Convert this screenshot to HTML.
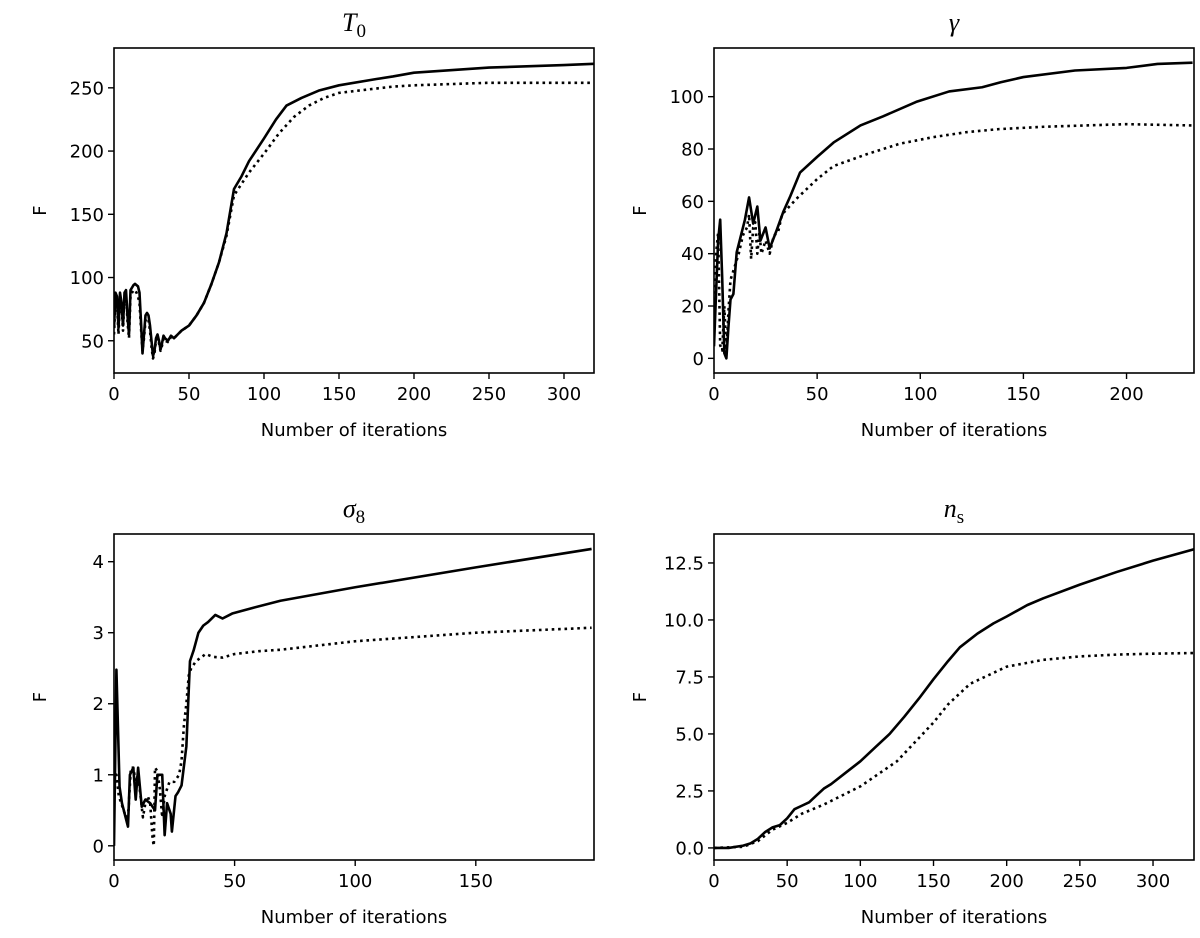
<!DOCTYPE html>
<html><head><meta charset="utf-8"><style>
html,body{margin:0;padding:0;background:#fff;}
svg{display:block;}
text{font-family:"DejaVu Sans","Liberation Sans",sans-serif;fill:#000;}
.ttl{font-family:"Liberation Serif","DejaVu Serif",serif;font-style:italic;font-size:26px;}
</style></head><body>
<svg id="fig" width="1200" height="938" viewBox="0 0 1200 938" xmlns="http://www.w3.org/2000/svg"></svg>
<script>
// ---- T0 panel data ----
const t0SolidX = [0,1,2,3,4,5,6,7,8,9,10,11,12,13,14,15,16,17,18,19,20,21,22,23,24,25,26,27,28,29,30,31,32,33,34,36,38,40,45,50,55,60,65,70,75,80,85,90,100,108,115,125,137,150,175,186,200,250,300,320];
const t0SolidY = [60,88,85,60,88,80,62,88,90,70,55,90,92,94,95,94,93,88,65,40,55,70,72,70,62,50,38,42,52,55,50,43,48,54,52,50,54,52,58,62,70,80,95,112,135,170,180,192,210,225,236,242,248,252,257,259,262,266,268,269];
const t0DotX = [0,1,2,3,4,5,6,7,8,9,10,11,12,13,14,15,16,17,18,19,20,21,22,23,24,25,26,27,28,29,30,31,32,33,34,36,38,40,45,50,55,60,65,70,75,80,90,100,110,120,130,140,150,186,200,250,320];
const t0DotY = [55,85,80,55,85,78,58,85,87,65,52,85,88,90,90,88,85,80,60,42,52,66,68,66,58,45,36,40,50,52,48,42,46,52,50,49,53,52,58,62,70,80,95,112,133,165,183,198,214,227,236,242,246,251,252,254,254];
const t0YTicks = [50,100,150,200,250];
const t0XTicks = [0,50,100,150,200,250,300];
// ---- gamma panel data ----
const gSolidX = [0,1,2,3,4,5,6,7,8,9.4,11,12.6,15,17,19,21,22.5,25,27,30.4,33.6,37,41.7,50,58,71,82,98,114,130,139,150,175,200,215,232];
const gSolidY = [4.6,25,45,53,30,2,0,12,22.5,24.6,40.5,45.5,53,61.5,51.5,58,45,50,42,49,56,62,71,77,82.5,89,92.5,98,102,103.6,105.5,107.5,110,111,112.5,113];
const gDotX = [0,1,2,3,4,5,6,7,8,10,12,14,16,17,18,19,20,21,22,23,25,27,29,31,33,40,50,58,74,90,106,122,138,160,180,200,232];
const gDotY = [10,40,48,5,3,20,2,18,30,35,40,47,50,55,38,50,52,40,48,40,45,40,47,48,55,61,68.5,73.5,78,82,84.5,86.4,87.6,88.5,89,89.5,89];
const gYTicks = [0,20,40,60,80,100];
const gXTicks = [0,50,100,150,200];
// ---- sigma8 panel data ----
const sSolidX = [0,1,2.3,3.3,5.8,6.6,8,9,10,11.5,13,15,16,17,18,20,21,22,23.5,24,25.5,26.5,28,30,31.5,33,35,37,39,42,45,49,57.6,69,100,150,198];
const sSolidY = [0,2.48,0.83,0.6,0.27,1.0,1.1,0.65,1.1,0.55,0.65,0.6,0.55,0.5,1.0,1.0,0.15,0.6,0.45,0.2,0.7,0.75,0.85,1.4,2.6,2.75,3.0,3.1,3.15,3.25,3.2,3.27,3.35,3.45,3.64,3.92,4.18];
const sDotX = [0,1,2,3,4,5,6,7,8,9,10,11,12,13,14,15,16,16.5,17,18,19,20,21,22,23,25,27,28,29,30,31,32,34,36,38,41,45,50,60,69,100,150,198];
const sDotY = [0.9,1.0,0.7,0.6,0.5,0.4,0.5,1.1,1.1,0.9,1.0,0.7,0.4,0.6,0.7,0.6,0.1,0,1.1,1.05,0.8,0.4,0.7,0.8,0.9,0.9,1.0,1.2,1.7,2.0,2.4,2.5,2.6,2.65,2.7,2.66,2.65,2.7,2.74,2.76,2.88,3.0,3.07];
const sYTicks = [0,1,2,3,4];
const sXTicks = [0,50,100,150];
// ---- n_s panel data ----
const nSolidX = [0,10,20,25,30,35,40,45,50,55,60,65,70,75,80,90,100,110,120,130,140,150,160,168,180,191,200,214,225,250,275,300,328];
const nSolidY = [0,0,0.1,0.2,0.4,0.7,0.9,1.0,1.3,1.7,1.85,2.0,2.3,2.6,2.8,3.3,3.8,4.4,5.0,5.75,6.55,7.4,8.2,8.8,9.4,9.85,10.15,10.65,10.95,11.55,12.1,12.6,13.1];
const nDotX = [0,20,30,40,50,60,75,100,125,150,160,175,200,225,250,275,300,328];
const nDotY = [0,0.05,0.3,0.8,1.1,1.5,1.9,2.7,3.8,5.5,6.3,7.2,7.95,8.25,8.4,8.48,8.52,8.55];
const nYTicks = [0,2.5,5,7.5,10,12.5];
const nXTicks = [0,50,100,150,200,250,300];

const NS = "http://www.w3.org/2000/svg";
const fig = document.getElementById('fig');
function mk(tag, attrs, parent, txt){
  const e = document.createElementNS(NS, tag);
  for (const k in attrs) e.setAttribute(k, attrs[k]);
  if (txt !== undefined) e.textContent = txt;
  (parent || fig).appendChild(e);
  return e;
}
function panel(cfg){
  const g = mk('g', {});
  
  
  const L = cfg.left, R = cfg.left + 480, T = cfg.top, B = cfg.bottom;
  const sx = v => L + (v - cfg.xmin) / (cfg.xmax - cfg.xmin) * (R - L);
  const sy = v => B - (v - cfg.ymin) / (cfg.ymax - cfg.ymin) * (B - T);
  const clip = mk('clipPath', {id: 'clip-' + cfg.name}, g);
  mk('rect', {x: L, y: T, width: R - L, height: B - T}, clip);
  const lines = mk('g', {'clip-path': 'url(#clip-' + cfg.name + ')'}, g);
  const pts = (X, Y) => X.map((x, i) => sx(x).toFixed(2) + ',' + sy(Y[i]).toFixed(2)).join(' ');
  const dl = mk('polyline', {points: pts(cfg.dx, cfg.dy), fill: 'none', stroke: '#000', 'stroke-width': 2.6, 'stroke-dasharray': '2.6 3.8', 'stroke-linejoin': 'round'}, lines);
  
  
  const sl = mk('polyline', {points: pts(cfg.sx, cfg.sy), fill: 'none', stroke: '#000', 'stroke-width': 2.6, 'stroke-linejoin': 'round'}, lines);
  
  
  const fr = mk('rect', {x: L, y: T, width: R - L, height: B - T, fill: 'none', stroke: '#000', 'stroke-width': 1.6}, g);
  
  
  cfg.xt.forEach(v => {
    const x = sx(v);
    mk('line', {x1: x, x2: x, y1: B, y2: B + 6, stroke: '#000', 'stroke-width': 1.4}, g);
    const t = mk('text', {x: x, y: B + 27, 'text-anchor': 'middle', 'font-size': 18}, g, String(v));
    
    
  });
  cfg.yt.forEach(v => {
    const y = sy(v);
    mk('line', {x1: L - 6, x2: L, y1: y, y2: y, stroke: '#000', 'stroke-width': 1.4}, g);
    const t = mk('text', {x: L - 10, y: y + 6.5, 'text-anchor': 'end', 'font-size': 18}, g, cfg.fmt(v));
    
    
  });
  const xl = mk('text', {x: (L + R) / 2, y: B + 63, 'text-anchor': 'middle', 'font-size': 18}, g, 'Number of iterations');
  
  
  const yx = L - 68, yy = (T + B) / 2;
  const yl = mk('text', {x: yx, y: yy, 'text-anchor': 'middle', 'font-size': 18, transform: 'rotate(-90 ' + yx + ' ' + yy + ')'}, g, 'F');
  
  
  const tt = mk('text', {x: (L + R) / 2, y: T - 17, 'text-anchor': 'middle', class: 'ttl'}, g);
  
  
  mk('tspan', {}, tt, cfg.t1);
  mk('tspan', {dy: 6, 'font-size': 19, 'font-style': 'normal'}, tt, cfg.t2);
}
const f0 = v => String(v);
const f1 = v => v.toFixed(1);
panel({name:'t0', left:114, top:48, bottom:373, xmin:0, xmax:320, ymin:24.5, ymax:281.5,
  sx:t0SolidX, sy:t0SolidY, dx:t0DotX, dy:t0DotY, xt:t0XTicks, yt:t0YTicks, fmt:f0, t1:'T', t2:'0'});
panel({name:'gamma', left:714, top:48, bottom:373, xmin:0, xmax:232.7, ymin:-5.6, ymax:118.6,
  sx:gSolidX, sy:gSolidY, dx:gDotX, dy:gDotY, xt:gXTicks, yt:gYTicks, fmt:f0, t1:'γ', t2:''});
panel({name:'sigma8', left:114, top:534, bottom:860, xmin:0, xmax:199, ymin:-0.2, ymax:4.39,
  sx:sSolidX, sy:sSolidY, dx:sDotX, dy:sDotY, xt:sXTicks, yt:sYTicks, fmt:f0, t1:'σ', t2:'8'});
panel({name:'ns', left:714, top:534, bottom:860, xmin:0, xmax:328, ymin:-0.53, ymax:13.77,
  sx:nSolidX, sy:nSolidY, dx:nDotX, dy:nDotY, xt:nXTicks, yt:nYTicks, fmt:f1, t1:'n', t2:'s'});
</script>
</body></html>
